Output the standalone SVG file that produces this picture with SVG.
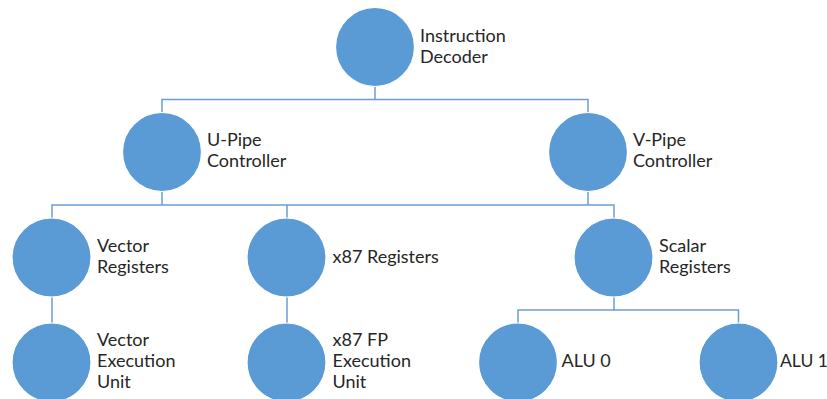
<svg xmlns="http://www.w3.org/2000/svg" width="827" height="399" viewBox="0 0 827 399">
<style>
.n{fill:#5B9BD5;stroke:#ffffff;stroke-width:1.2}
.c{fill:none;stroke:#6A9FD4;stroke-width:1.5}
.t{font-family:Lato,"Open Sans","Liberation Sans",sans-serif;font-size:18px;fill:#262626}
</style>
<rect width="827" height="399" fill="#ffffff"/>
<g id="connectors">
<path class="c" d="M375,86V99.5M162,113V99.5H588V113"/>
<path class="c" d="M162,191V205M588,191V205M52,218V205H614V218M287,218V205"/>
<path class="c" d="M52,297V323M287,297V323"/>
<path class="c" d="M614,297V310M518,323V310H738.5V323"/>
</g>
<g id="instruction-decoder"><circle class="n" cx="375" cy="47" r="39.5"/><text class="t" x="420" y="42">Instruction</text><text class="t" x="420" y="62.5">Decoder</text></g>
<g id="u-pipe"><circle class="n" cx="162" cy="152" r="39.5"/><text class="t" x="207" y="146">U-Pipe</text><text class="t" x="207" y="167">Controller</text></g>
<g id="v-pipe"><circle class="n" cx="588" cy="152" r="39.5"/><text class="t" x="633" y="146">V-Pipe</text><text class="t" x="633" y="167">Controller</text></g>
<g id="vector-registers"><circle class="n" cx="51.5" cy="257.5" r="39.5"/><text class="t" x="97" y="252">Vector</text><text class="t" x="97" y="273">Registers</text></g>
<g id="x87-registers"><circle class="n" cx="286.5" cy="257.5" r="39.5"/><text class="t" x="332.5" y="262.5">x87 Registers</text></g>
<g id="scalar-registers"><circle class="n" cx="613.5" cy="257.5" r="39.5"/><text class="t" x="659" y="252">Scalar</text><text class="t" x="659" y="273">Registers</text></g>
<g id="vector-execution-unit"><circle class="n" cx="51.5" cy="362.5" r="39.5"/><text class="t" x="97" y="346">Vector</text><text class="t" x="97" y="367">Execution</text><text class="t" x="97" y="387.5">Unit</text></g>
<g id="x87-fp-execution-unit"><circle class="n" cx="286.5" cy="362.5" r="39.5"/><text class="t" x="332.5" y="346">x87 FP</text><text class="t" x="332.5" y="367">Execution</text><text class="t" x="332.5" y="387.5">Unit</text></g>
<g id="alu-0"><circle class="n" cx="518" cy="362.5" r="39.5"/><text class="t" x="561.5" y="367">ALU 0</text></g>
<g id="alu-1"><circle class="n" cx="738.5" cy="362.5" r="39.5"/><text class="t" x="780" y="367" style="font-size:17.5px">ALU 1</text></g>
</svg>
